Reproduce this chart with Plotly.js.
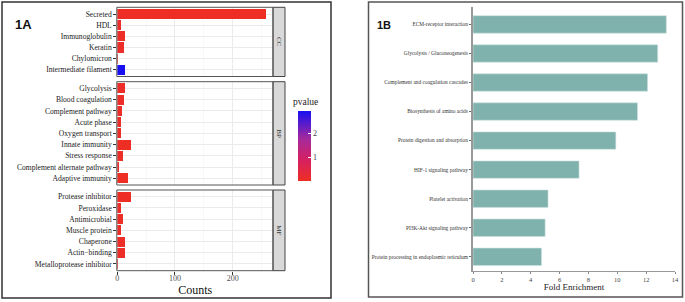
<!DOCTYPE html>
<html><head><meta charset="utf-8">
<script src="https://cdn.plot.ly/plotly-3.0.1.min.js"></script>
<style>html,body{margin:0;padding:0;background:#fff;}#chart{width:685px;height:302px;}</style>
</head><body><div id="chart"></div>
<script>
// ---- Data: panel 1A (Counts by category) ----
const ccCats = ["Secreted","HDL","Immunoglobulin","Keratin","Chylomicron","Intermediate filament"];
const ccCounts = [257, 6, 13, 12, 2, 13];
const ccPvalue = [0.05, 0.1, 0.1, 0.1, 0.1, 2.93];

const bpCats = ["Glycolysis","Blood coagulation","Complement pathway","Acute phase","Oxygen transport","Innate immunity","Stress response","Complement alternate pathway","Adaptive immunity"];
const bpCounts = [14, 12, 9, 7, 6, 24, 10, 3, 19];
const bpPvalue = [0.1, 0.1, 0.1, 0.1, 0.1, 0.05, 0.1, 0.1, 0.05];

const mfCats = ["Protease inhibitor","Peroxidase","Antimicrobial","Muscle protein","Chaperone","Actin\u2212binding","Metalloprotease inhibitor"];
const mfCounts = [24, 6, 10, 7, 14, 14, 2];
const mfPvalue = [0.05, 0.1, 0.1, 0.1, 0.1, 0.1, 0.1];

// ---- Data: panel 1B (KEGG fold enrichment) ----
const keggCats = ["ECM-receptor interaction","Glycolysis / Gluconeogenesis","Complement and coagulation cascades","Biosynthesis of amino acids","Protein digestion and absorption","HIF-1 signaling pathway","Platelet activation","PI3K-Akt signaling pathway","Protein processing in endoplasmic reticulum"];
const keggFold = [13.4, 12.8, 12.1, 11.4, 9.9, 7.35, 5.2, 5.0, 4.75];

const countTicks = [0, 100, 200];
const foldTicks = [0, 2, 4, 6, 8, 10, 12, 14];

// ---- layout helpers (pixel -> paper) ----
const W = 685, H = 302;
const px = v => v / W;
const py = v => 1 - v / H;
const serif = "Liberation Serif";

const L0 = 117.3, L1 = 273;
const panels = [
  {top: 7.3, bot: 76.5, label: "CC"},
  {top: 81.7, bot: 185, label: "BP"},
  {top: 190, bot: 270.7, label: "MF"}
];

function barTrace(cats, vals, pv, xa, ya) {
  return {type: "bar", orientation: "h", y: cats, x: vals, xaxis: xa, yaxis: ya,
    width: 0.9, marker: {color: pv, coloraxis: "coloraxis", line: {width: 0}},
    hoverinfo: "x+y"};
}
const traces = [
  barTrace(ccCats, ccCounts, ccPvalue, "x", "y"),
  barTrace(bpCats, bpCounts, bpPvalue, "x2", "y2"),
  barTrace(mfCats, mfCounts, mfPvalue, "x3", "y3"),
  {type: "bar", orientation: "h", y: keggCats, x: keggFold, xaxis: "x4", yaxis: "y4",
   width: 0.6, marker: {color: "#7FB2AC", line: {color: "#CFE3E0", width: 0.6}}}
];

function xAx(anchor, showLabels) {
  return {domain: [px(L0), px(L1)], anchor: anchor, range: [0, 270],
    tickvals: countTicks, ticktext: countTicks.map(String),
    showticklabels: showLabels, ticks: showLabels ? "outside" : "", ticklen: 3, tickcolor: "#333",
    ticklabelstandoff: -3,
    tickfont: {family: serif, size: 8, color: "#4D4D4D"},
    showgrid: true, gridcolor: "#EBEBEB", gridwidth: 1,
    minor: {dtick: 50, tick0: 0, showgrid: true, gridcolor: "#F3F3F3", gridwidth: 0.6},
    zeroline: false, showline: false, fixedrange: true};
}
function yAx(anchor, n, p) {
  return {domain: [py(p.bot), py(p.top)], anchor: anchor, type: "category",
    range: [n - 0.4, -0.6], ticks: "outside", ticklen: 3, tickcolor: "#333",
    tickfont: {family: serif, size: 7.6, color: "#222"},
    showgrid: true, gridcolor: "#EBEBEB", gridwidth: 1, zeroline: false, showline: false};
}

const layout = {
  width: W, height: H, margin: {l: 0, r: 0, t: 0, b: 0},
  paper_bgcolor: "#fff", plot_bgcolor: "#fff", showlegend: false, bargap: 0,
  xaxis: xAx("y", false),
  xaxis2: xAx("y2", false),
  xaxis3: Object.assign(xAx("y3", true), {title: {text: "Counts", font: {family: serif, size: 12, color: "#111"}, standoff: 0}}),
  yaxis: yAx("x", ccCats.length, panels[0]),
  yaxis2: yAx("x2", bpCats.length, panels[1]),
  yaxis3: yAx("x3", mfCats.length, panels[2]),
  xaxis4: {domain: [px(473), px(675)], anchor: "y4", range: [0, 14],
    tickvals: foldTicks, ticks: "outside", ticklen: 2, tickcolor: "#888",
    tickfont: {family: serif, size: 6.5, color: "#444"},
    showgrid: false, zeroline: false, showline: true, linecolor: "#999", linewidth: 1,
    title: {text: "Fold Enrichment", font: {family: serif, size: 9, color: "#222"}, standoff: 1}},
  yaxis4: {domain: [py(270.7), py(7)], anchor: "x4", type: "category", range: [8.48, -0.6],
    ticks: "outside", ticklen: 2, tickcolor: "#666",
    tickfont: {family: serif, size: 5.4, color: "#333"},
    showgrid: false, zeroline: false, showline: true, linecolor: "#999", linewidth: 2},
  coloraxis: {cmin: 0.05, cmax: 2.93,
    colorscale: [[0, "#EE2E24"], [0.3, "#D62060"], [0.6, "#A52A9C"], [1, "#1810F2"]],
    colorbar: {thicknessmode: "pixels", thickness: 12.7, lenmode: "pixels", len: 70,
      x: px(298.3), xanchor: "left", y: py(145.7), yanchor: "middle", xpad: 0, ypad: 0,
      outlinewidth: 0, tickvals: [1, 2], ticks: "inside", ticklen: 3, tickcolor: "#FFFFFF",
      tickfont: {family: serif, size: 8, color: "#444"}, title: {text: ""}}},
  shapes: [],
  annotations: [
    {text: "<b>1A</b>", xref: "paper", yref: "paper", x: px(23.5), y: py(25), xanchor: "center", yanchor: "middle",
     showarrow: false, font: {family: "Liberation Sans", size: 13, color: "#111"}},
    {text: "<b>1B</b>", xref: "paper", yref: "paper", x: px(383.5), y: py(25), xanchor: "center", yanchor: "middle",
     showarrow: false, font: {family: "Liberation Sans", size: 11, color: "#111"}},
    {text: "pvalue", xref: "paper", yref: "paper", x: px(305), y: py(102), xanchor: "center", yanchor: "middle",
     showarrow: false, font: {family: serif, size: 9.5, color: "#222"}}
  ]
};

// panel borders and facet strips
panels.forEach(p => {
  layout.shapes.push({type: "rect", xref: "paper", yref: "paper", x0: px(L1), x1: px(285),
    y0: py(p.bot), y1: py(p.top), fillcolor: "#D9D9D9", line: {color: "#444", width: 1}});
  layout.shapes.push({type: "rect", xref: "paper", yref: "paper", x0: px(L0 - 0.5), x1: px(L1),
    y0: py(p.bot), y1: py(p.top), fillcolor: "rgba(0,0,0,0)", line: {color: "#555", width: 1}});
  layout.annotations.push({text: p.label, xref: "paper", yref: "paper", x: px(279), y: py((p.top + p.bot) / 2),
    xanchor: "center", yanchor: "middle",
    showarrow: false, textangle: 90, font: {family: serif, size: 7, color: "#333"}});
});
// outer frames
layout.shapes.push({type: "rect", xref: "paper", yref: "paper", x0: px(2), x1: px(331), y0: py(298), y1: py(2),
  line: {color: "#333", width: 1.5}, fillcolor: "rgba(0,0,0,0)"});
layout.shapes.push({type: "rect", xref: "paper", yref: "paper", x0: px(368.5), x1: px(682.5), y0: py(297), y1: py(2),
  line: {color: "#555", width: 1.5}, fillcolor: "rgba(0,0,0,0)"});

Plotly.newPlot("chart", traces, layout, {displayModeBar: false, staticPlot: true});
</script></body></html>
